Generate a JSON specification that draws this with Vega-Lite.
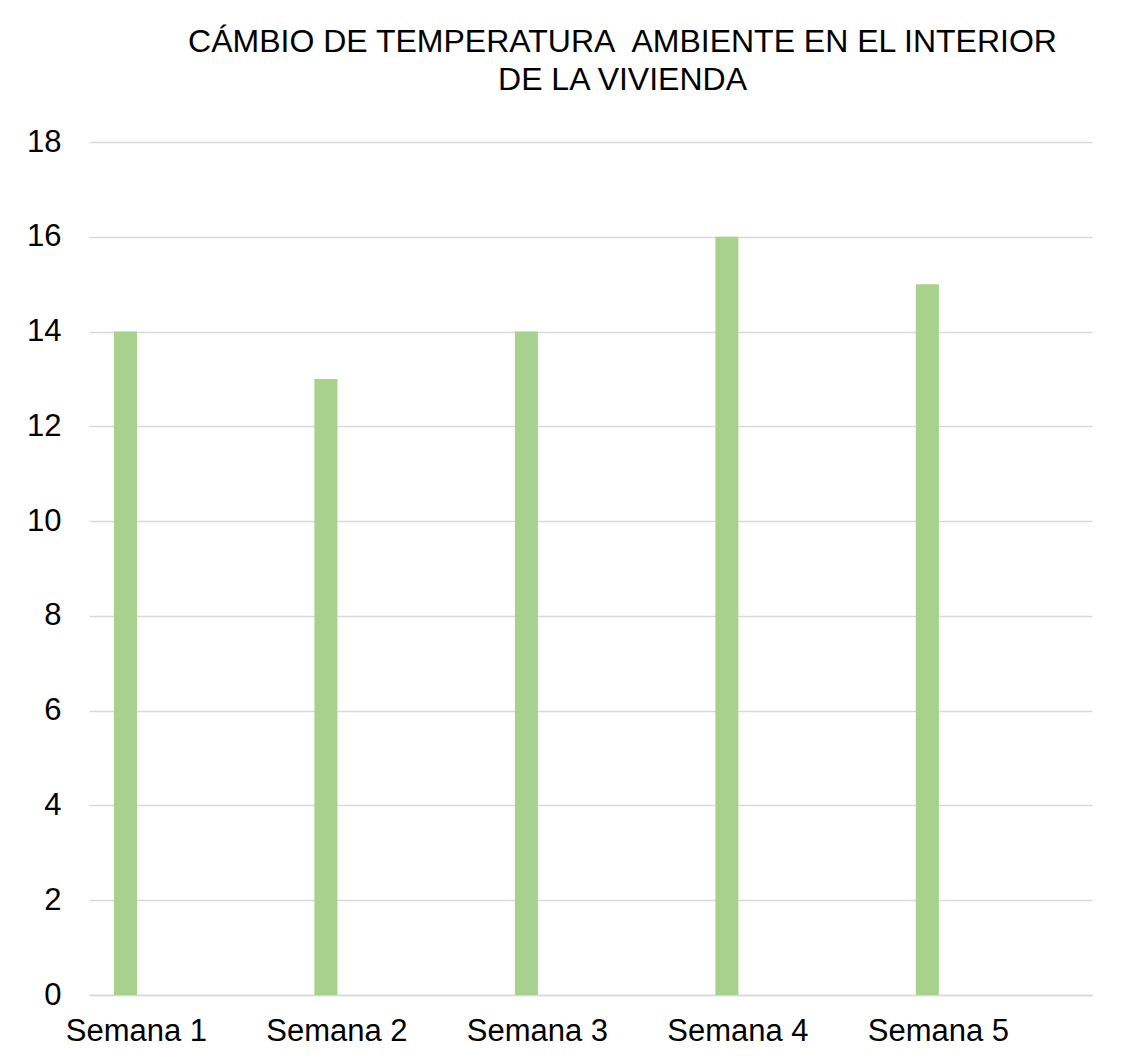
{
  "$schema": "https://vega.github.io/schema/vega-lite/v6.json",
  "autosize": {"type": "none"},
  "width": 1003,
  "height": 853,
  "padding": {"left": 89, "top": 142, "right": 37, "bottom": 64},
  "background": "white",
  "title": {
    "text": ["CÁMBIO DE TEMPERATURA \u00a0AMBIENTE EN EL INTERIOR", "DE LA VIVIENDA"],
    "font": "Liberation Sans",
    "fontSize": 32,
    "fontWeight": "normal",
    "color": "#000000",
    "anchor": "middle",
    "frame": "group",
    "dx": 32,
    "offset": 29,
    "lineHeight": 38
  },
  "data": {
    "values": [
      {"semana": "Semana 1", "temp": 14},
      {"semana": "Semana 2", "temp": 13},
      {"semana": "Semana 3", "temp": 14},
      {"semana": "Semana 4", "temp": 16},
      {"semana": "Semana 5", "temp": 15}
    ]
  },
  "mark": {"type": "bar", "color": "#A9D18E"},
  "encoding": {
    "x": {
      "field": "semana",
      "type": "nominal",
      "sort": null,
      "scale": {"paddingInner": 0.885, "paddingOuter": 0.444, "align": 0.14},
      "axis": {
        "title": null,
        "labelAngle": 0,
        "labelFont": "Liberation Sans",
        "labelFontSize": 31,
        "labelColor": "#000000",
        "labelOffset": 11,
        "labelPadding": 21,
        "labelBaseline": "top",
        "ticks": false,
        "domain": true,
        "domainColor": "#d9d9d9",
        "domainWidth": 1.5,
        "grid": false
      }
    },
    "y": {
      "field": "temp",
      "type": "quantitative",
      "scale": {"domain": [0, 18], "nice": false},
      "axis": {
        "title": null,
        "values": [0, 2, 4, 6, 8, 10, 12, 14, 16, 18],
        "labelFont": "Liberation Sans",
        "labelFontSize": 31,
        "labelColor": "#000000",
        "labelPadding": 28,
        "ticks": false,
        "domain": false,
        "grid": true,
        "gridColor": "#d9d9d9",
        "gridWidth": 1.5
      }
    }
  },
  "config": {"view": {"stroke": null}}
}
